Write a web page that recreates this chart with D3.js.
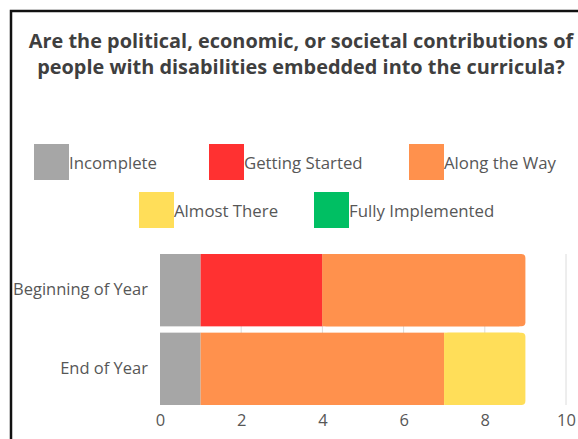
<!DOCTYPE html>
<html>
<head>
<meta charset="utf-8">
<script src="https://cdn.jsdelivr.net/npm/d3@7.9.0/dist/d3.min.js"></script>
<style>
  html, body { margin: 0; padding: 0; background: #fff; }
  svg { display: block; font-family: "Open Sans", "DejaVu Sans", sans-serif; }
</style>
</head>
<body>
<svg id="chart" width="578" height="439"></svg>
<script>
// ---- data ----
const titleLines = [
  "Are the political, economic, or societal contributions of",
  "people with disabilities embedded into the curricula?"
];
const categories = ["Beginning of Year", "End of Year"];
const levels = ["Incomplete", "Getting Started", "Along the Way", "Almost There", "Fully Implemented"];
const levelColors = ["#a6a6a6", "#ff3131", "#ff914d", "#ffde59", "#00bf63"];
const incomplete       = [1, 1];
const gettingStarted   = [3, 0];
const alongTheWay      = [5, 6];
const almostThere      = [0, 2];
const fullyImplemented = [0, 0];
const xTicks = [0, 2, 4, 6, 8, 10];

// table for d3.stack
const series = [incomplete, gettingStarted, alongTheWay, almostThere, fullyImplemented];
const rows = categories.map((c, i) => {
  const r = { category: c };
  levels.forEach((l, j) => r[l] = series[j][i]);
  return r;
});

const svg = d3.select("#chart");
const textColor = "#575757";

// frame (only top/left edges are inside the window)
svg.append("rect")
  .attr("x", 11).attr("y", 11)
  .attr("width", 640).attr("height", 500)
  .attr("fill", "none")
  .attr("stroke", "#111")
  .attr("stroke-width", 2.5);

// title
const title = svg.append("g");
const t2 = title.append("text")
  .attr("font-weight", 700)
  .attr("font-size", 18)
  .text(titleLines[1]);
// fit second line to ~528px
const w2 = t2.node().getComputedTextLength();
const titleSize = 18 * 528 / w2;
title.selectAll("text").remove();
title.selectAll("text")
  .data(titleLines)
  .join("text")
  .attr("x", 301)
  .attr("y", (d, i) => 48 + i * 26)
  .attr("text-anchor", "middle")
  .attr("font-weight", 700)
  .attr("font-size", titleSize)
  .attr("fill", "#3f3f3f")
  .text(d => d);

// legend
const legendRow1 = [34, 209, 409];
const legendRow2 = [139, 314];
const legendItems = levels.map((l, i) => ({
  label: l,
  color: levelColors[i],
  x: i < 3 ? legendRow1[i] : legendRow2[i - 3],
  y: i < 3 ? 144 : 192
}));
const legend = svg.append("g").selectAll("g")
  .data(legendItems)
  .join("g")
  .attr("transform", d => `translate(${d.x},${d.y})`);
legend.append("rect")
  .attr("width", 35).attr("height", 36)
  .attr("fill", d => d.color);
legend.append("text")
  .attr("x", 35)
  .attr("y", 19)
  .attr("dy", "0.35em")
  .attr("font-size", 16.8)
  .attr("fill", textColor)
  .text(d => d.label);

// scales
const x = d3.scaleLinear().domain([0, 10]).range([160, 566]);
const y = d3.scaleBand().domain(categories).range([254, 405]).paddingInner(0.08).paddingOuter(0);

// grid
svg.append("g")
  .selectAll("line")
  .data(xTicks.slice(1))
  .join("line")
  .attr("x1", d => x(d)).attr("x2", d => x(d))
  .attr("y1", 254).attr("y2", 405)
  .attr("stroke", "#dcdcdc")
  .attr("stroke-width", 1);

// bars
const stacked = d3.stack().keys(levels)(rows);
const barG = svg.append("g");
stacked.forEach((s, j) => {
  s.forEach((d, i) => {
    if (d[1] - d[0] <= 0) return;
    const total = d3.sum(series, arr => arr[i]);
    const x0 = x(d[0]), x1 = x(d[1]);
    const yy = y(categories[i]), h = y.bandwidth();
    if (d[1] === total) {
      // last segment: round right corners
      barG.append("rect")
        .attr("x", x0).attr("y", yy)
        .attr("width", x1 - x0).attr("height", h)
        .attr("rx", 4)
        .attr("fill", levelColors[j]);
      barG.append("rect")
        .attr("x", x0).attr("y", yy)
        .attr("width", Math.max(0, x1 - x0 - 6)).attr("height", h)
        .attr("fill", levelColors[j]);
    } else {
      barG.append("rect")
        .attr("x", x0).attr("y", yy)
        .attr("width", x1 - x0).attr("height", h)
        .attr("fill", levelColors[j]);
    }
  });
});

// x axis
const xAxis = svg.append("g")
  .attr("transform", "translate(0,405)")
  .call(d3.axisBottom(x).tickValues(xTicks).tickSize(0).tickPadding(9));
xAxis.select(".domain").remove();
xAxis.selectAll("text")
  .attr("font-size", 16.5)
  .attr("font-family", "\"Open Sans\", sans-serif")
  .attr("fill", textColor);

// y axis
const yAxis = svg.append("g")
  .attr("transform", "translate(148,0)")
  .call(d3.axisLeft(y).tickSize(0).tickPadding(0));
yAxis.select(".domain").remove();
yAxis.selectAll("text")
  .attr("font-size", 16.5)
  .attr("font-family", "\"Open Sans\", sans-serif")
  .attr("fill", textColor);
</script>
</body>
</html>
